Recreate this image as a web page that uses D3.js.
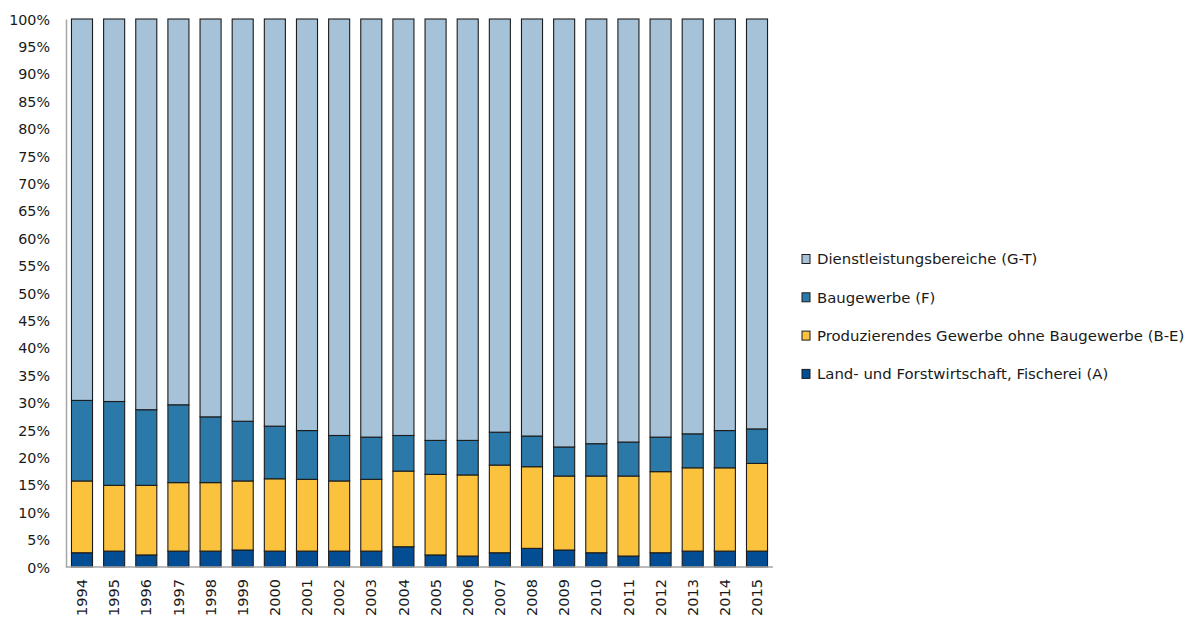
<!DOCTYPE html>
<html>
<head>
<meta charset="utf-8">
<script src="https://cdn.jsdelivr.net/npm/d3@7"></script>
<style>
  html, body { margin: 0; padding: 0; background: #fff; }
  svg text { font-family: "DejaVu Sans", sans-serif; fill: #1a1a1a; }
</style>
</head>
<body>
<svg id="chart" width="1194" height="624"></svg>
<script>
// Years on the x axis
const years = ["1994","1995","1996","1997","1998","1999","2000","2001","2002","2003","2004",
               "2005","2006","2007","2008","2009","2010","2011","2012","2013","2014","2015"];

// Shares of each sector (percent), one array per series
const landForst   = [2.6, 2.9, 2.2, 2.9, 2.9, 3.1, 2.9, 2.9, 2.9, 2.9, 3.7, 2.2, 2.0, 2.6, 3.4, 3.1, 2.6, 2.0, 2.6, 2.9, 2.9, 2.9];
const produzierend= [13.1, 12.0, 12.7, 12.5, 12.5, 12.6, 13.2, 13.1, 12.8, 13.1, 13.8, 14.7, 14.8, 16.0, 14.9, 13.5, 14.0, 14.6, 14.8, 15.2, 15.2, 16.0];
const baugewerbe  = [14.7, 15.3, 13.8, 14.2, 12.0, 10.9, 9.6, 8.9, 8.3, 7.7, 6.5, 6.2, 6.3, 6.0, 5.6, 5.3, 5.9, 6.2, 6.3, 6.2, 6.8, 6.3];
const dienst      = [69.6, 69.8, 71.3, 70.4, 72.6, 73.4, 74.3, 75.1, 76.0, 76.3, 76.0, 76.9, 76.9, 75.4, 76.1, 78.1, 77.5, 77.2, 76.3, 75.7, 75.1, 74.8];

// Series names (stack order, bottom to top)
const seriesNames = [
  "Land- und Forstwirtschaft, Fischerei (A)",
  "Produzierendes Gewerbe ohne Baugewerbe (B-E)",
  "Baugewerbe (F)",
  "Dienstleistungsbereiche (G-T)"
];
const seriesColors = ["#034d94", "#fbc23d", "#2a79a8", "#a5c2d8"];

// Y tick values
const yTicks = d3.range(0, 101, 5);

const keys = ["a", "be", "f", "gt"];
const table = years.map((y, i) => ({
  year: y, a: landForst[i], be: produzierend[i], f: baugewerbe[i], gt: dienst[i]
}));

// Normalise so each column sums to 100 %
const stack = d3.stack().keys(keys).offset(d3.stackOffsetExpand);
const layers = stack(table);

const svg = d3.select("#chart");
const margin = { left: 66, right: 1194 - 773, top: 19, bottom: 624 - 567 };

const x = d3.scaleBand().domain(years).range([margin.left, 773]).paddingInner(0.345).paddingOuter(0.17);
const y = d3.scaleLinear().domain([0, 1]).range([567, 19]);

// Bars
svg.append("g").selectAll("g")
  .data(layers)
  .join("g")
  .attr("fill", (d, i) => seriesColors[i])
  .selectAll("rect")
  .data(d => d)
  .join("rect")
  .attr("x", d => x(d.data.year))
  .attr("width", x.bandwidth())
  .attr("y", d => y(d[1]))
  .attr("height", d => y(d[0]) - y(d[1]))
  .attr("stroke", "#1c1c1c")
  .attr("stroke-width", 1.1);

// Y axis
const yAxis = svg.append("g")
  .attr("transform", `translate(${margin.left},0)`)
  .call(d3.axisLeft(y).tickValues(yTicks.map(v => v / 100)).tickSize(0).tickPadding(16)
        .tickFormat(d => Math.round(d * 100) + "%"));
yAxis.select(".domain").attr("stroke", "#a6a6a6").attr("stroke-width", 1.5);
yAxis.selectAll("text").attr("font-size", 14.3).attr("dy", "0.35em");

// X axis
const xAxis = svg.append("g")
  .attr("transform", `translate(0,567)`)
  .call(d3.axisBottom(x).tickSize(0).tickSizeOuter(0));
xAxis.select(".domain").attr("stroke", "#a6a6a6").attr("stroke-width", 1.5)
  .attr("d", `M${margin.left},0H773`);
xAxis.selectAll("text")
  .attr("font-size", 14.5)
  .attr("transform", "rotate(-90)")
  .attr("text-anchor", "end")
  .attr("x", -12)
  .attr("y", 0)
  .attr("dy", "0.35em");

// Legend (top-to-bottom: reverse of stack order)
const legendItems = seriesNames.map((n, i) => ({ name: n, color: seriesColors[i] })).reverse();
const legend = svg.append("g");
const lg = legend.selectAll("g")
  .data(legendItems)
  .join("g")
  .attr("transform", (d, i) => `translate(802,${259 + i * 38.3})`);
lg.append("rect")
  .attr("x", 0).attr("y", -4.5).attr("width", 8).attr("height", 9)
  .attr("fill", d => d.color).attr("stroke", "#1c1c1c").attr("stroke-width", 1);
lg.append("text")
  .attr("x", 15).attr("y", 0).attr("dy", "0.35em")
  .attr("font-size", 14.9)
  .text(d => d.name);
</script>
</body>
</html>
